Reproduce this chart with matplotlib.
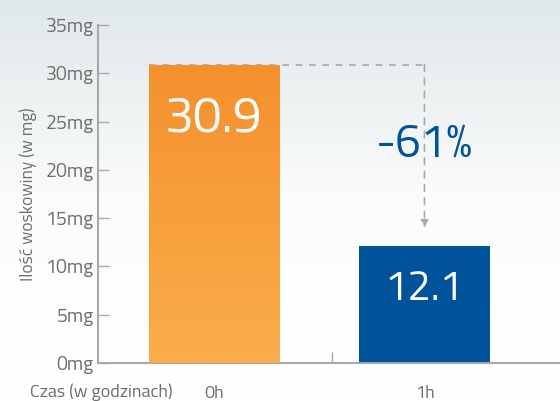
import numpy as np
import matplotlib
matplotlib.use("Agg")
import matplotlib.pyplot as plt
from matplotlib.colors import LinearSegmentedColormap

plt.rcParams['font.family'] = ['Titillium Web', 'DejaVu Sans']

hours = ["0h", "1h"]
wax = [30.9, 12.1]
value_labels = ["30.9", "12.1"]
change_label = "-61%"
yticks = [0, 5, 10, 15, 20, 25, 30, 35]
ytick_labels = ["%dmg" % v for v in yticks]

grey = "#6d6e70"
blue = "#00529b"

fig = plt.figure(figsize=(5.6, 4.01), dpi=100)

# background gradient
bg = fig.add_axes([0, 0, 1, 1], zorder=-10)
bg.axis("off")
g = np.linspace(0, 1, 256).reshape(-1, 1)
bg_cmap = LinearSegmentedColormap.from_list("bg", ["#ffffff", "#fbfcfc", "#e0e8e9"])
bg.imshow(g, cmap=bg_cmap, aspect="auto", origin="lower", extent=[0, 1, 0, 1])

ax = fig.add_axes([98 / 560, 1 - 363 / 401, 1 - 98 / 560, (363 - 25) / 401])
ax.patch.set_alpha(0)

bars = ax.bar([0, 1], wax, width=0.62, color=["#f79a35", blue], zorder=2)

# orange bar gradient
orange_cmap = LinearSegmentedColormap.from_list("org", ["#f9ae4b", "#f5902e"])
b0 = bars[0]
im = ax.imshow(g, cmap=orange_cmap, aspect="auto", origin="lower",
               extent=[b0.get_x(), b0.get_x() + b0.get_width(), 0, b0.get_height()], zorder=3)
im.set_clip_path(b0)
ax.set_xlim(-0.551, 1.644)
ax.set_ylim(0, 35)

# value labels
ax.text(0, 25.3, value_labels[0], color="white", fontsize=37, ha="center", va="center", zorder=5)
ax.text(1, 7.6, value_labels[1], color="white", fontsize=30, ha="center", va="center", zorder=5)

# dashed connector and arrow
ax.plot([bars[0].get_x(), 1.0], [wax[0], wax[0]], ls=(0, (4, 4)), color="#a7a9ac", lw=1.2, zorder=1)
ax.annotate("", xy=(1.0, wax[1] + 1.9), xytext=(1.0, wax[0]),
            arrowprops=dict(arrowstyle="-|>", ls=(0, (4, 4)), color="#a7a9ac", lw=1.2,
                            mutation_scale=11, shrinkA=0, shrinkB=0), zorder=1)
ax.text(1.0, 22.6, change_label, color=blue, fontsize=33, ha="center", va="center",
        bbox=dict(facecolor="none", edgecolor="none"))

for s in ["top", "right"]:
    ax.spines[s].set_visible(False)
for s in ["left", "bottom"]:
    ax.spines[s].set_color("#a7a9ac")
    ax.spines[s].set_linewidth(1.5)

ax.set_yticks(yticks)
ax.set_yticklabels(ytick_labels, fontsize=14, color=grey)
ax.tick_params(axis="y", direction="in", length=8, width=1, color="#a7a9ac", pad=3)
ax.set_xticks([0, 1])
ax.set_xticklabels(hours, fontsize=13, color=grey)
ax.tick_params(axis="x", length=0, pad=16)
ax.set_xticks([0.56], minor=True)
ax.tick_params(axis="x", which="minor", direction="in", length=8, width=1, color="#a7a9ac")

ax.set_ylabel("Ilość woskowiny (w mg)", fontsize=12.5, color=grey, labelpad=6)
fig.text(30 / 560, 1 - 392 / 401, "Czas (w godzinach)", fontsize=13, color=grey, va="center")

fig.savefig("out.png", dpi=100)
